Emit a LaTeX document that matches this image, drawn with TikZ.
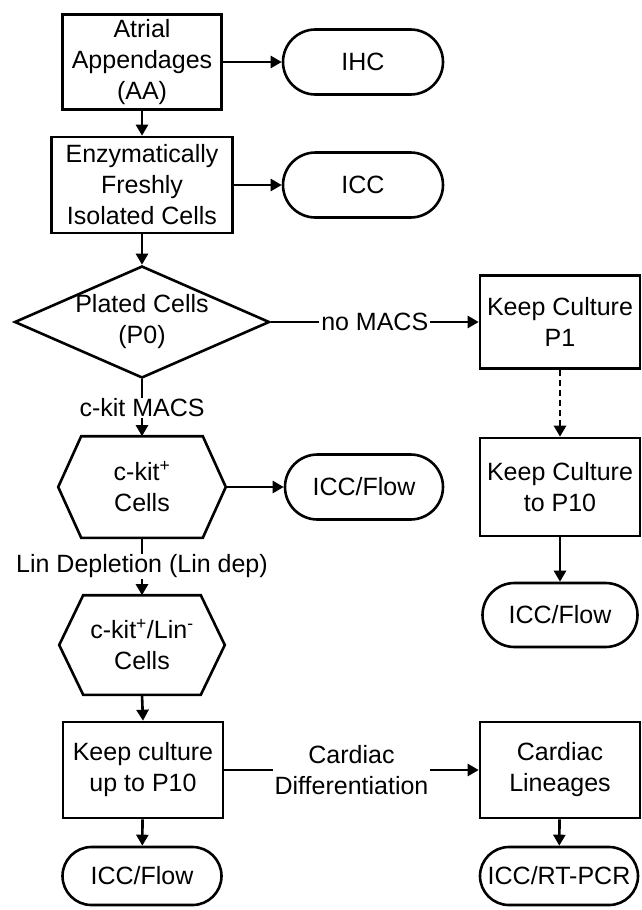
\documentclass[tikz,border=0pt]{standalone}
\usepackage{fontspec}
\setmainfont{Liberation Sans}
\usetikzlibrary{shapes.geometric,shapes.misc,arrows.meta,calc}
\tikzset{
  base/.style={line width=2.6pt, draw=black, align=center, inner sep=0pt,
    font=\fontsize{25}{31}\selectfont},
  procbox/.style={base, rectangle},
  term/.style={base, rounded rectangle, rounded rectangle arc length=180},
  hexbox/.style={base, draw=none, rectangle},
  conn/.style={line width=2.6pt, -{Triangle[length=11pt,width=12pt]}},
  lbl/.style={fill=white, inner xsep=2pt, inner ysep=1pt, align=center,
    font=\fontsize{25}{31}\selectfont},
}
\begin{document}
\begin{tikzpicture}[x=1pt,y=-1pt]
\useasboundingbox (0,0) rectangle (641,910);
% left column
\node[procbox, minimum width=159pt, minimum height=95pt] (aa) at (142,62) {Atrial\\Appendages\\(AA)};
\node[procbox, minimum width=181pt, minimum height=96pt] (enz) at (142,185) {Enzymatically\\Freshly\\Isolated Cells};
\node[base, diamond, aspect=2.28, minimum width=255pt, minimum height=112pt] (plated) at (142,322) {};
\node[align=center, inner sep=0pt, font=\fontsize{25}{31}\selectfont] (platedtxt) at (142,322) {Plated Cells\\(P0)};
\node[hexbox, minimum width=165pt, minimum height=99pt] (ckit) at (142,487) {c-kit\textsuperscript{+}\\Cells};
\node[hexbox, minimum width=163pt, minimum height=97pt] (cklin) at (142,645) {c-kit\textsuperscript{+}/Lin\textsuperscript{-}\\Cells};
\node[procbox, minimum width=160pt, minimum height=96pt] (keep) at (143,770) {Keep culture\\up to P10};
\node[term, minimum width=159pt, minimum height=58pt] (flowL) at (142,876) {ICC/Flow};
% hexagon outlines
\draw[line width=2.6pt, line join=miter] ($(ckit.north west)+(23,0)$) -- ($(ckit.north east)+(-23,0)$) -- (ckit.east) -- ($(ckit.south east)+(-23,0)$) -- ($(ckit.south west)+(23,0)$) -- (ckit.west) -- cycle;
\draw[line width=2.6pt, line join=miter] ($(cklin.north west)+(24,0)$) -- ($(cklin.north east)+(-24,0)$) -- (cklin.east) -- ($(cklin.south east)+(-24,0)$) -- ($(cklin.south west)+(24,0)$) -- (cklin.west) -- cycle;
% middle column
\node[term, minimum width=160pt, minimum height=65pt] (ihc) at (363,62) {IHC};
\node[term, minimum width=160pt, minimum height=65pt] (icc) at (363,185) {ICC};
\node[term, minimum width=158pt, minimum height=65pt] (flowM) at (364,487) {ICC/Flow};
% right column
\node[procbox, minimum width=160pt, minimum height=93pt] (p1) at (560,322) {Keep Culture\\P1};
\node[procbox, minimum width=160pt, minimum height=98pt] (p10) at (560,487) {Keep Culture\\to P10};
\node[term, minimum width=155pt, minimum height=64pt] (flowR) at (560,615) {ICC/Flow};
\node[procbox, minimum width=160pt, minimum height=96pt] (card) at (560,770) {Cardiac\\Lineages};
\node[term, minimum width=158pt, minimum height=58pt] (rt) at (559,876) {ICC/RT-PCR};
% connectors
\draw[conn] (aa) -- (enz);
\draw[conn] (aa) -- (ihc);
\draw[conn] (enz) -- (icc);
\draw[conn] (enz) -- (plated.north);
\draw[conn] (plated.east) -- node[lbl] (nomacs) {no MACS} (p1.west);
\draw[conn, dash pattern=on 6pt off 4pt] (p1) -- (p10);
\draw[conn] (p10) -- (flowR);
\draw[conn] (plated.south) -- node[lbl] (ckmacs) {c-kit MACS} (ckit.north);
\draw[conn] (ckit.east) -- (flowM.west);
\draw[conn] (ckit.south) -- node[lbl] (lindep) {Lin Depletion (Lin dep)} (cklin.north);
\draw[conn] (cklin.south) -- (keep.north);
\draw[conn] (keep) -- (flowL);
\draw[conn] (keep.east) -- node[lbl] (cdiff) {Cardiac\\Differentiation} (card.west);
\draw[conn] (card) -- (rt);
\end{tikzpicture}
\end{document}
